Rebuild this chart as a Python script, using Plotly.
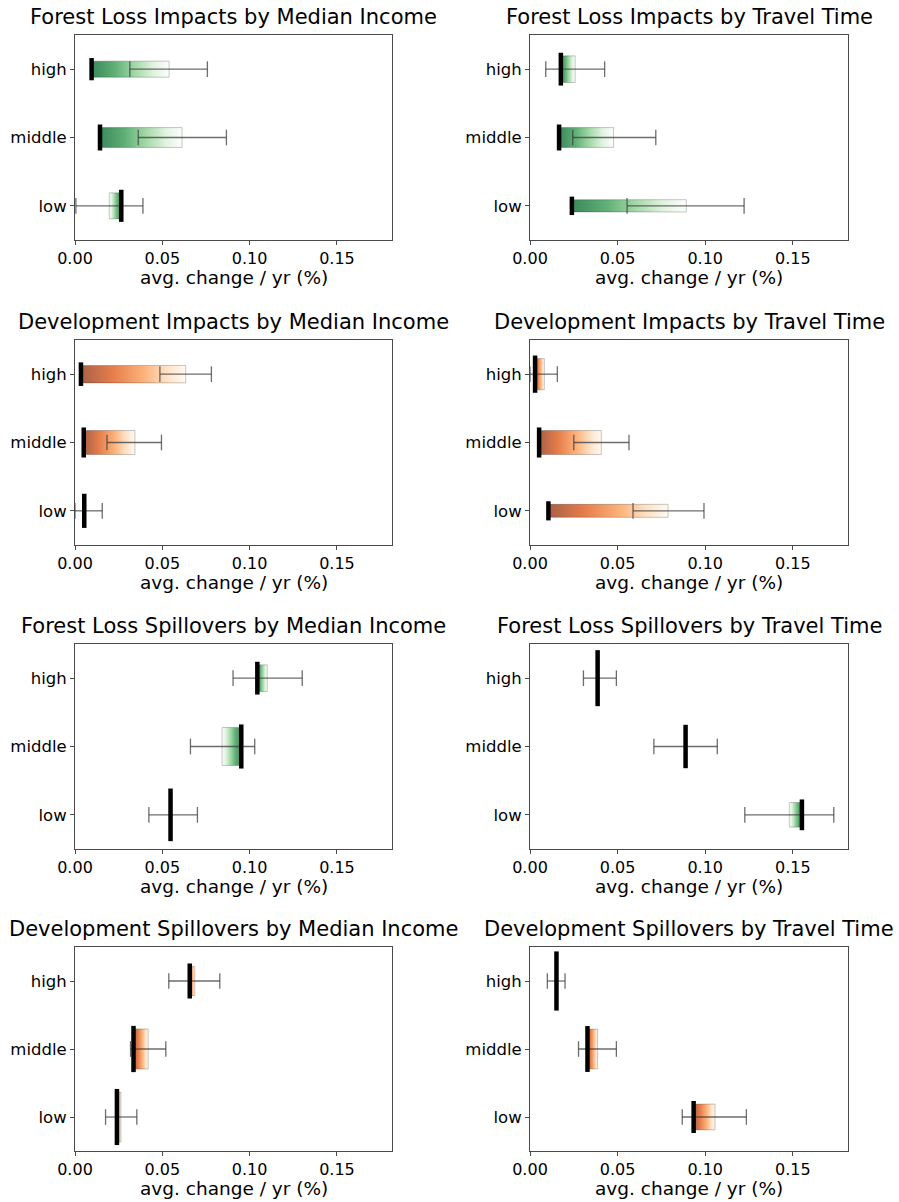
import plotly.graph_objects as go

# ---------------- data ----------------
categories = ["low", "middle", "high"]
x_tick_vals = [0.0, 0.05, 0.10, 0.15]
x_tick_text = ["0.00", "0.05", "0.10", "0.15"]
x_label = "avg. change / yr (%)"

titles = [
    "Forest Loss Impacts by Median Income",
    "Forest Loss Impacts by Travel Time",
    "Development Impacts by Median Income",
    "Development Impacts by Travel Time",
    "Forest Loss Spillovers by Median Income",
    "Forest Loss Spillovers by Travel Time",
    "Development Spillovers by Median Income",
    "Development Spillovers by Travel Time",
]
kinds = ["forest", "forest", "dev", "dev", "forest", "forest", "dev", "dev"]

# values listed as [low, middle, high]
point_fl_inc = [0.0265, 0.0143, 0.0095]
end_fl_inc = [0.0196, 0.0613, 0.0539]
lo_fl_inc = [0.0005, 0.0362, 0.0314]
hi_fl_inc = [0.0389, 0.0867, 0.0758]
width_fl_inc = [0.38, 0.29, 0.235]

point_fl_tt = [0.0239, 0.0166, 0.0176]
end_fl_tt = [0.0892, 0.0477, 0.0258]
lo_fl_tt = [0.0554, 0.0244, 0.0090]
hi_fl_tt = [0.1222, 0.0718, 0.0426]
width_fl_tt = [0.18, 0.29, 0.39]

point_dev_inc = [0.0053, 0.0050, 0.0034]
end_dev_inc = [0.0053, 0.0343, 0.0634]
lo_dev_inc = [0.0000, 0.0183, 0.0486]
hi_dev_inc = [0.0156, 0.0495, 0.0781]
width_dev_inc = [0.41, 0.35, 0.255]

point_dev_tt = [0.0105, 0.0052, 0.0029]
end_dev_tt = [0.0788, 0.0407, 0.0082]
lo_dev_tt = [0.0588, 0.0250, 0.0000]
hi_dev_tt = [0.0993, 0.0565, 0.0156]
width_dev_tt = [0.19, 0.35, 0.455]

point_fls_inc = [0.0547, 0.0952, 0.1044]
end_fls_inc = [0.0547, 0.0842, 0.1101]
lo_fls_inc = [0.0423, 0.0661, 0.0905]
hi_fls_inc = [0.0701, 0.1029, 0.1301]
width_fls_inc = [0.68, 0.555, 0.39]

point_fls_tt = [0.1552, 0.0888, 0.0386]
end_fls_tt = [0.1480, 0.0888, 0.0386]
lo_fls_tt = [0.1226, 0.0707, 0.0305]
hi_fls_tt = [0.1734, 0.1069, 0.0493]
width_fls_tt = [0.36, 0.545, 0.73]

point_devs_inc = [0.0240, 0.0335, 0.0657]
end_devs_inc = [0.0263, 0.0419, 0.0686]
lo_devs_inc = [0.0175, 0.0318, 0.0537]
hi_devs_inc = [0.0354, 0.0520, 0.0829]
width_devs_inc = [0.735, 0.59, 0.425]

point_devs_tt = [0.0934, 0.0328, 0.0151]
end_devs_tt = [0.1056, 0.0386, 0.0151]
lo_devs_tt = [0.0869, 0.0277, 0.0099]
hi_devs_tt = [0.1235, 0.0493, 0.0200]
width_devs_tt = [0.38, 0.585, 0.78]

panels = [
    (point_fl_inc, end_fl_inc, lo_fl_inc, hi_fl_inc, width_fl_inc),
    (point_fl_tt, end_fl_tt, lo_fl_tt, hi_fl_tt, width_fl_tt),
    (point_dev_inc, end_dev_inc, lo_dev_inc, hi_dev_inc, width_dev_inc),
    (point_dev_tt, end_dev_tt, lo_dev_tt, hi_dev_tt, width_dev_tt),
    (point_fls_inc, end_fls_inc, lo_fls_inc, hi_fls_inc, width_fls_inc),
    (point_fls_tt, end_fls_tt, lo_fls_tt, hi_fls_tt, width_fls_tt),
    (point_devs_inc, end_devs_inc, lo_devs_inc, hi_devs_inc, width_devs_inc),
    (point_devs_tt, end_devs_tt, lo_devs_tt, hi_devs_tt, width_devs_tt),
]

# ---------------- style ----------------
W, H = 899, 1202
FONT = "DejaVu Sans"
col_px = [(75, 392), (530, 848)]
row_px = [(35, 240), (340, 545), (644, 849), (947, 1151)]
X_MAX = 0.1815
CAP = 0.115          # half cap height (category units)
BLACK_EXT = 0.045    # black line extends beyond box (category units)

green_scale = [
    [0.0, "rgb(60,136,90)"],
    [0.3, "rgb(95,175,118)"],
    [0.55, "rgb(160,215,165)"],
    [0.8, "rgb(225,243,224)"],
    [1.0, "rgb(252,254,252)"],
]
orange_scale = [
    [0.0, "rgb(168,96,72)"],
    [0.3, "rgb(230,125,75)"],
    [0.6, "rgb(252,178,122)"],
    [0.82, "rgb(253,226,198)"],
    [1.0, "rgb(255,249,243)"],
]


def reverse(scale):
    return [[1 - s, c] for s, c in reversed(scale)]


def px_to_paper_x(px):
    return px / W


def px_to_paper_y(px):
    return 1 - px / H


fig = go.Figure()
layout = dict(
    width=W, height=H,
    margin=dict(l=0, r=0, t=0, b=0, autoexpand=False),
    paper_bgcolor="white", plot_bgcolor="white",
    showlegend=False,
    font=dict(family=FONT, color="black", size=16),
)
annotations = []

for i, (pts, ends, los, his, wids) in enumerate(panels):
    r, c = divmod(i, 2)
    xa = "x" if i == 0 else f"x{i+1}"
    ya = "y" if i == 0 else f"y{i+1}"
    scale = green_scale if kinds[i] == "forest" else orange_scale

    for j, cat in enumerate(categories):
        y = j + 1
        p, e, lo, hi, w = pts[j], ends[j], los[j], his[j], wids[j]
        # gradient box
        if abs(e - p) > 1e-9:
            a, b = min(p, e), max(p, e)
            cs = scale if p < e else reverse(scale)
            fig.add_trace(go.Scatter(
                x=[a, b, b, a, a],
                y=[y - w / 2, y - w / 2, y + w / 2, y + w / 2, y - w / 2],
                mode="lines", fill="toself",
                fillgradient=dict(type="horizontal", colorscale=cs, start=a, stop=b),
                line=dict(color="rgba(0,0,0,0.22)", width=1),
                xaxis=xa, yaxis=ya, hoverinfo="skip",
            ))
        # whisker with caps
        fig.add_trace(go.Scatter(
            x=[lo, hi, None, lo, lo, None, hi, hi],
            y=[y, y, None, y - CAP, y + CAP, None, y - CAP, y + CAP],
            mode="lines", line=dict(color="rgba(60,60,60,0.75)", width=1.3),
            xaxis=xa, yaxis=ya, hoverinfo="skip",
        ))
        # thick black line
        hh = w / 2 + BLACK_EXT
        fig.add_trace(go.Scatter(
            x=[p, p], y=[y - hh, y + hh],
            mode="lines", line=dict(color="black", width=4.5),
            xaxis=xa, yaxis=ya, hoverinfo="skip",
        ))

    x0, x1 = col_px[c]
    y0, y1 = row_px[r]
    xkey = "xaxis" if i == 0 else f"xaxis{i+1}"
    ykey = "yaxis" if i == 0 else f"yaxis{i+1}"
    axis_common = dict(
        showline=True, mirror=True, linecolor="#4a4a4a", linewidth=1,
        ticks="outside", ticklen=4, tickcolor="#4a4a4a", tickwidth=1,
        showgrid=False, zeroline=False, fixedrange=True, automargin=False,
    )
    layout[xkey] = dict(
        domain=[px_to_paper_x(x0), px_to_paper_x(x1)],
        range=[0, X_MAX], tickvals=x_tick_vals, ticktext=x_tick_text,
        tickfont=dict(size=16, family=FONT, color="black"),
        anchor=ya, **axis_common,
    )
    layout[ykey] = dict(
        domain=[px_to_paper_y(y1), px_to_paper_y(y0)],
        range=[0.5, 3.5], tickvals=[1, 2, 3], ticktext=categories,
        tickfont=dict(size=16.5, family=FONT, color="black"),
        anchor=xa, **axis_common,
    )
    cx = px_to_paper_x((x0 + x1) / 2)
    annotations.append(dict(
        text=titles[i], x=cx, y=px_to_paper_y(y0 - 18),
        xref="paper", yref="paper", xanchor="center", yanchor="middle",
        showarrow=False, font=dict(size=21, family=FONT, color="black"),
    ))
    annotations.append(dict(
        text=x_label, x=cx, y=px_to_paper_y(y1 + 37),
        xref="paper", yref="paper", xanchor="center", yanchor="middle",
        showarrow=False, font=dict(size=18.5, family=FONT, color="black"),
    ))

layout["annotations"] = annotations
fig.update_layout(**layout)
fig.write_html(
    "out.html",
    config={"displayModeBar": False, "staticPlot": True},
    post_script="document.body.style.margin='0';document.body.style.overflow='hidden';",
)
